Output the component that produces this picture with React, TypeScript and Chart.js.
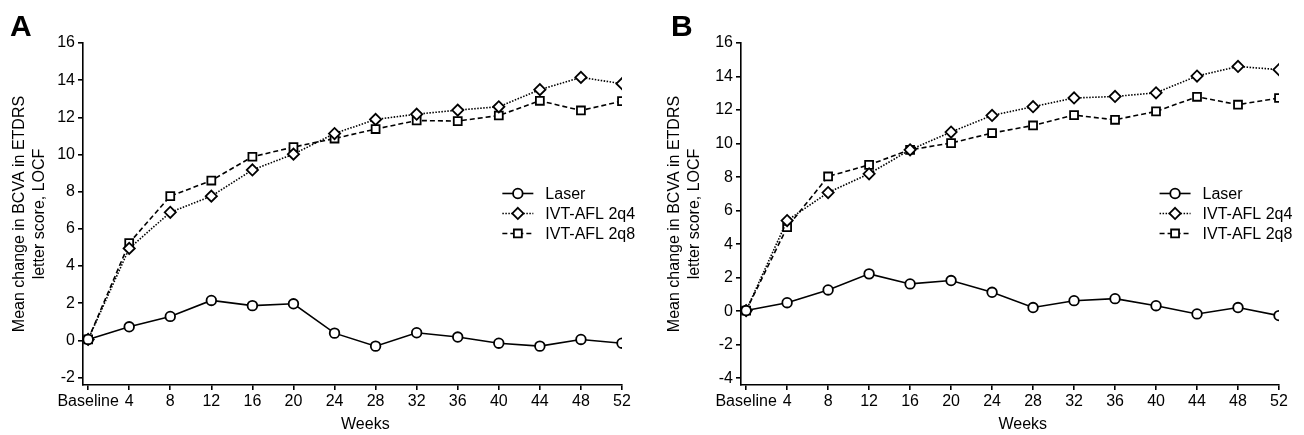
import React, { useEffect, useRef } from 'react';
import { Chart, registerables } from 'chart.js';

Chart.register(...registerables);

// ---------- data ----------
const weeks = [0, 4, 8, 12, 16, 20, 24, 28, 32, 36, 40, 44, 48, 52];
const xTickLabels = ['Baseline', '4', '8', '12', '16', '20', '24', '28', '32', '36', '40', '44', '48', '52'];
const seriesNames = ['Laser', 'IVT-AFL 2q4', 'IVT-AFL 2q8'];

const laserA = [0.05, 0.73, 1.29, 2.15, 1.87, 1.97, 0.39, -0.31, 0.41, 0.18, -0.15, -0.31, 0.05, -0.15];
const q4A = [0.05, 4.95, 6.89, 7.76, 9.17, 10.02, 11.13, 11.89, 12.17, 12.39, 12.57, 13.49, 14.15, 13.81];
const q8A = [0.05, 5.24, 7.76, 8.6, 9.88, 10.4, 10.86, 11.37, 11.83, 11.8, 12.1, 12.89, 12.37, 12.87];

const laserB = [0.04, 0.51, 1.27, 2.23, 1.63, 1.83, 1.13, 0.22, 0.63, 0.75, 0.33, -0.16, 0.22, -0.26];
const q4B = [0.04, 5.41, 7.08, 8.2, 9.63, 10.69, 11.68, 12.2, 12.72, 12.81, 13.03, 14.03, 14.6, 14.41];
const q8B = [0.04, 5.01, 8.04, 8.73, 9.63, 10.03, 10.63, 11.08, 11.7, 11.42, 11.92, 12.79, 12.32, 12.72];

const yTicksA = [-2, 0, 2, 4, 6, 8, 10, 12, 14, 16];
const yTicksB = [-4, -2, 0, 2, 4, 6, 8, 10, 12, 14, 16];

const yTitle = ['Mean change in BCVA in ETDRS', 'letter score, LOCF'];
const xTitle = 'Weeks';

// ---------- styles ----------
const FONT = "'Liberation Sans', Arial, Helvetica, sans-serif";
const seriesStyles = [
  { pointStyle: 'circle', radius: 4.8, dash: [] as number[] },
  { pointStyle: 'rectRot', radius: 5.6, dash: [1.5, 1.5] },
  { pointStyle: 'rect', radius: 5.6, dash: [5, 3] },
];

function drawMarker(ctx: CanvasRenderingContext2D, style: string, r: number, x: number, y: number) {
  ctx.beginPath();
  if (style === 'circle') {
    ctx.arc(x, y, r, 0, Math.PI * 2);
  } else if (style === 'rectRot') {
    ctx.moveTo(x, y - r);
    ctx.lineTo(x + r, y);
    ctx.lineTo(x, y + r);
    ctx.lineTo(x - r, y);
    ctx.closePath();
  } else {
    const s = r * Math.SQRT1_2;
    ctx.rect(x - s, y - s, 2 * s, 2 * s);
  }
  ctx.fillStyle = '#fff';
  ctx.fill();
  ctx.stroke();
}

type PanelProps = {
  letter: string;
  series: number[][];
  yMin: number;
  yTicks: number[];
  yAxisWidth: number;
  titlePadTop: number;
  padRight: number;
  letterX: number;
  left: number;
};

function Panel(props: PanelProps) {
  const ref = useRef<HTMLCanvasElement | null>(null);

  useEffect(() => {
    if (!ref.current) return;
    const { letter, series, yMin, yTicks, yAxisWidth, titlePadTop, padRight, letterX } = props;

    const decor = {
      id: 'decor',
      afterDraw(chart: any) {
        const { ctx, chartArea, scales } = chart;
        ctx.save();
        // legend
        const lx = chartArea.left + chartArea.width * 0.778;
        const ly = chartArea.top + chartArea.height * 0.44;
        ctx.font = `16px ${FONT}`;
        ctx.textBaseline = 'middle';
        ctx.textAlign = 'left';
        seriesNames.forEach((name, i) => {
          const st = seriesStyles[i];
          const y = ly + i * 20;
          ctx.strokeStyle = '#000';
          ctx.lineWidth = 1.6;
          ctx.setLineDash(st.dash);
          ctx.beginPath();
          ctx.moveTo(lx, y);
          ctx.lineTo(lx + 31, y);
          ctx.stroke();
          ctx.setLineDash([]);
          ctx.lineWidth = 1.8;
          drawMarker(ctx, st.pointStyle, st.radius, lx + 15.5, y);
          ctx.fillStyle = '#000';
          ctx.fillText(name, lx + 43, y + 1);
        });
        // x title
        ctx.font = `16px ${FONT}`;
        ctx.textAlign = 'center';
        ctx.textBaseline = 'middle';
        ctx.fillStyle = '#000';
        ctx.fillText(xTitle, scales.x.getPixelForValue(27), 425);
        // panel letter
        ctx.font = `bold 30px ${FONT}`;
        ctx.textAlign = 'left';
        ctx.textBaseline = 'alphabetic';
        ctx.fillText(letter, letterX, 36);
        ctx.restore();
      },
    };

    const datasets = series.map((vals, i) => ({
      label: seriesNames[i],
      data: weeks.map((w, j) => ({ x: w, y: vals[j] })),
      borderColor: '#000',
      borderWidth: 1.6,
      borderDash: seriesStyles[i].dash,
      pointStyle: seriesStyles[i].pointStyle,
      pointRadius: seriesStyles[i].radius,
      pointBackgroundColor: '#fff',
      pointBorderColor: '#000',
      pointBorderWidth: 1.8,
      tension: 0,
      fill: false,
    }));

    const chart = new Chart(ref.current, {
      type: 'line',
      data: { datasets },
      plugins: [decor],
      options: {
        animation: false,
        responsive: false,
        maintainAspectRatio: false,
        devicePixelRatio: 1,
        layout: { padding: { left: 0, right: padRight, top: 43, bottom: 0 } },
        plugins: {
          legend: { display: false },
          tooltip: { enabled: false },
        },
        scales: {
          x: {
            type: 'linear',
            min: -0.5,
            max: 52,
            afterBuildTicks: (scale: any) => {
              scale.ticks = weeks.map((v) => ({ value: v }));
            },
            afterFit: (scale: any) => {
              scale.height = 50;
            },
            ticks: {
              autoSkip: false,
              maxRotation: 0,
              color: '#000',
              padding: 2,
              font: { family: FONT, size: 16 },
              callback: (v: any) => {
                const idx = weeks.indexOf(Number(v));
                return idx >= 0 ? xTickLabels[idx] : '';
              },
            },
            grid: {
              drawOnChartArea: false,
              drawTicks: true,
              tickLength: 5,
              color: '#000',
              lineWidth: 1.6,
            },
            border: { display: true, color: '#000', width: 1.6 },
          },
          y: {
            type: 'linear',
            min: yMin,
            max: 16,
            afterBuildTicks: (scale: any) => {
              scale.ticks = yTicks.map((v) => ({ value: v }));
            },
            afterFit: (scale: any) => {
              scale.width = yAxisWidth;
            },
            ticks: {
              color: '#000',
              padding: 3,
              font: { family: FONT, size: 16 },
            },
            grid: {
              drawOnChartArea: false,
              drawTicks: true,
              tickLength: 5,
              color: '#000',
              lineWidth: 1.6,
            },
            border: { display: true, color: '#000', width: 1.6 },
            title: {
              display: true,
              text: yTitle,
              color: '#000',
              font: { family: FONT, size: 16, lineHeight: 1.22 },
              padding: { top: titlePadTop, bottom: 0 },
            },
          },
        },
      } as any,
    });
    return () => chart.destroy();
  }, []);

  return (
    <canvas
      ref={ref}
      width={652}
      height={435}
      style={{ position: 'absolute', left: props.left, top: 0, width: 652, height: 435 }}
    />
  );
}

export default function App() {
  return (
    <div style={{ position: 'absolute', left: 0, top: 0, width: 1304, height: 435, background: '#fff' }}>
      <Panel
        letter="A"
        series={[laserA, q4A, q8A]}
        yMin={-2.4}
        yTicks={yTicksA}
        yAxisWidth={83}
        titlePadTop={10}
        padRight={30}
        letterX={10}
        left={0}
      />
      <Panel
        letter="B"
        series={[laserB, q4B, q8B]}
        yMin={-4.4}
        yTicks={yTicksB}
        yAxisWidth={89}
        titlePadTop={13}
        padRight={25}
        letterX={19}
        left={652}
      />
    </div>
  );
}
